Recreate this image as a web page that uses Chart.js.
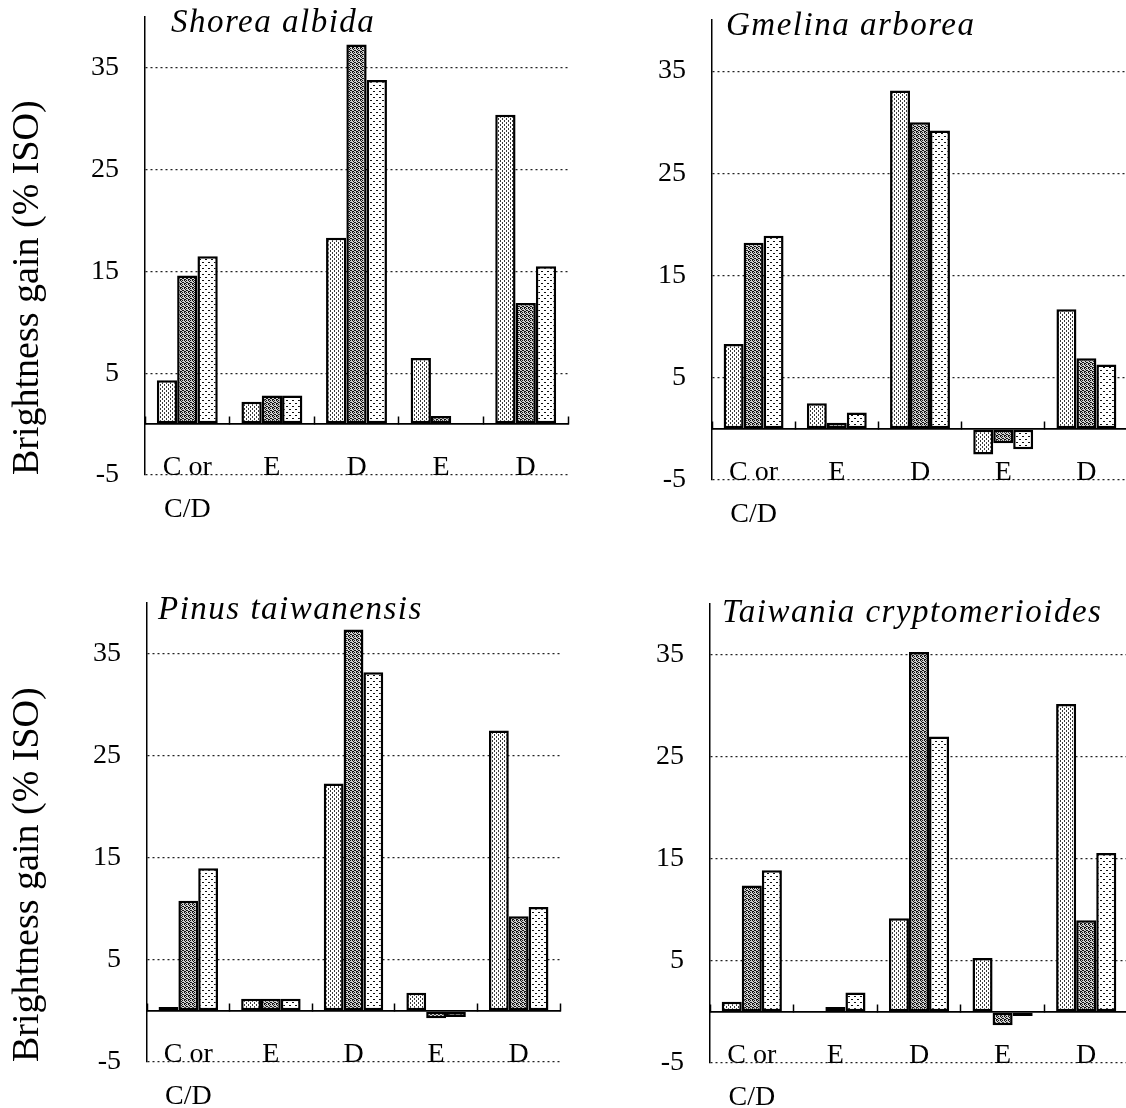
<!DOCTYPE html>
<html>
<head>
<meta charset="utf-8">
<script src="https://cdn.jsdelivr.net/npm/chart.js@4.4.0/dist/chart.umd.min.js"></script>
<style>
  html, body { margin: 0; padding: 0; background: #fff; overflow: hidden; }
  body { width: 1126px; height: 1108px; position: relative; }
  canvas { position: absolute; }
</style>
</head>
<body>
<canvas id="c0"></canvas>
<canvas id="c1"></canvas>
<canvas id="c2"></canvas>
<canvas id="c3"></canvas>
<script>
/* brightness gain per bleaching stage, four wood species, three bars per stage */

const categories = [["C or", "C/D"], "E", "D", "E", "D"];
const yTicks = [-5, 0, 5, 15, 25, 35];

const shorea1 = [4.3, 2.2, 18.3, 6.5, 30.4];
const shorea2 = [14.6, 2.8, 37.3, 0.8, 11.9];
const shorea3 = [16.5, 2.8, 33.8, 0, 15.5];

const gmelina1 = [8.3, 2.5, 33.1, -2.5, 11.7];
const gmelina2 = [18.2, 0.6, 30.0, -1.4, 6.9];
const gmelina3 = [18.9, 1.6, 29.2, -2.0, 6.3];

const pinus1 = [0.4, 1.2, 22.3, 1.8, 27.5];
const pinus2 = [10.8, 1.2, 37.4, -0.7, 9.3];
const pinus3 = [14.0, 1.2, 33.2, -0.6, 10.2];

const taiwania1 = [1.0, 0, 9.2, 5.3, 30.2];
const taiwania2 = [12.4, 0.5, 35.3, -1.3, 9.0];
const taiwania3 = [13.9, 1.9, 27.0, -0.4, 15.6];

const SERIF = '"Liberation Serif", "Times New Roman", serif';

// where each panel sits on the page and how its plot area is framed
const PANELS = [
  { id: "c0", left: 0, top: 0, w: 580, h: 550, yw: 145, xh: 75, pad: { top: 17, right: 12 },
    title: "Shorea albida", dx: 26, dy: 15, yTitle: true, series: [shorea1, shorea2, shorea3] },
  { id: "c1", left: 580, top: 0, w: 548, h: 550, yw: 132, xh: 70, pad: { top: 20, right: 0 },
    title: "Gmelina arborea", dx: 14, dy: 15, yTitle: false, series: [gmelina1, gmelina2, gmelina3] },
  { id: "c2", left: 0, top: 560, w: 580, h: 548, yw: 147, xh: 46, pad: { top: 43, right: 20 },
    title: "Pinus taiwanensis", dx: 11, dy: 16, yTitle: true, series: [pinus1, pinus2, pinus3] },
  { id: "c3", left: 580, top: 560, w: 548, h: 548, yw: 130, xh: 45, pad: { top: 44, right: 0 },
    title: "Taiwania cryptomerioides", dx: 12, dy: 18, yTitle: false, series: [taiwania1, taiwania2, taiwania3] },
];

function makePattern(bg, dotColor, w, h, dots) {
  const c = document.createElement("canvas");
  c.width = w; c.height = h;
  const g = c.getContext("2d");
  g.fillStyle = bg;
  g.fillRect(0, 0, w, h);
  g.fillStyle = dotColor;
  dots.forEach(([x, y]) => g.fillRect(x, y, 1, 1));
  return g.createPattern(c, "repeat");
}

// stipple fills: light streaky, dark dense, white with sparse dots
const FILLS = [
  makePattern("#ffffff", "#3a3a3a", 4, 4, [[0, 0], [0, 1], [2, 2], [2, 3]]),
  makePattern("#d0d0d0", "#111111", 4, 4, [[0, 0], [2, 0], [1, 1], [3, 2], [0, 3], [2, 2], [1, 3]]),
  makePattern("#ffffff", "#111111", 6, 6, [[1, 1], [2, 1], [4, 4], [5, 4]]),
];

const panelTitle = {
  id: "panelTitle",
  afterDraw(chart, args, opts) {
    const { ctx, chartArea } = chart;
    ctx.save();
    ctx.font = `italic 33px ${SERIF}`;
    ctx.letterSpacing = "1.5px";
    ctx.fillStyle = "#000";
    ctx.textBaseline = "alphabetic";
    ctx.fillText(opts.text, chartArea.left + opts.dx, chartArea.top + opts.dy);
    ctx.restore();
  },
};

function noPadding(s) {
  s.paddingTop = 0;
  s.paddingBottom = 0;
  s.paddingLeft = 0;
  s.paddingRight = 0;
}

function buildPanel(p) {
  const canvas = document.getElementById(p.id);
  canvas.width = p.w;
  canvas.height = p.h;
  canvas.style.left = p.left + "px";
  canvas.style.top = p.top + "px";

  return new Chart(canvas, {
    type: "bar",
    data: {
      labels: categories,
      datasets: p.series.map((values, i) => ({
        data: values,
        backgroundColor: FILLS[i],
        borderColor: "#000",
        borderWidth: 2.5,
        borderSkipped: false,
        barPercentage: 1,
        categoryPercentage: 0.72,
      })),
    },
    options: {
      responsive: false,
      animation: false,
      layout: { padding: { left: 0, bottom: 0, top: p.pad.top, right: p.pad.right } },
      plugins: {
        legend: { display: false },
        tooltip: { enabled: false },
        panelTitle: { text: p.title, dx: p.dx, dy: p.dy },
      },
      scales: {
        x: {
          type: "category",
          offset: true,
          grid: { display: false, drawTicks: false },
          border: { display: false },
          ticks: {
            color: "#000",
            font: { family: SERIF, size: 28, lineHeight: 1.5 },
            mirror: true,       // mirrored labels are not clipped to the axis box
            padding: -14,
            maxRotation: 0,
            autoSkip: false,
          },
          afterFit: (s) => { s.height = p.xh; noPadding(s); },
        },
        x2: {
          type: "category",
          axis: "x",
          position: { y: 0 },
          offset: true,
          grid: { offset: true, drawOnChartArea: false, drawTicks: true, tickLength: -8, tickWidth: 1.5, tickColor: "#000" },
          border: { display: true, color: "#000", width: 1.5 },
          ticks: { display: false },
          afterFit: (s) => { s.height = 0; noPadding(s); },
        },
        y: {
          min: -5,
          max: 40,
          afterBuildTicks: (s) => { s.ticks = yTicks.map((v) => ({ value: v })); },
          ticks: {
            color: "#000",
            font: { family: SERIF, size: 28 },
            padding: 26,
            callback: (v) => (v === 0 ? "" : String(v)),
          },
          grid: {
            drawTicks: false,
            color: (c) => (c.tick && c.tick.value === 0 ? "#000" : "#222"),
            lineWidth: (c) => (c.tick && c.tick.value === 0 ? 1.5 : 1.2),
          },
          border: {
            display: true,
            color: "#000",
            width: 1.5,
            dash: (c) => (c.tick && c.tick.value !== 0 ? [2, 3] : []),
          },
          title: {
            display: p.yTitle,
            text: "Brightness gain (% ISO)",
            color: "#000",
            font: { family: SERIF, size: 38 },
            align: "start",
            padding: { top: 5, bottom: 0 },
          },
          afterFit: (s) => { s.width = p.yw; noPadding(s); },
        },
      },
    },
    plugins: [panelTitle],
  });
}

PANELS.forEach(buildPanel);
</script>
</body>
</html>
